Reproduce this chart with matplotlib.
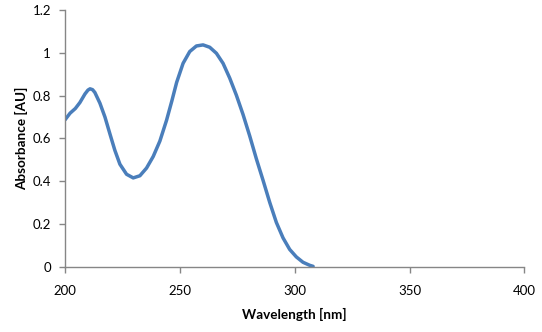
import matplotlib
matplotlib.use("Agg")
import matplotlib.pyplot as plt

# Absorbance spectrum
wavelength_nm = [200, 202.2, 204.5, 206.5, 208.7, 210.0, 210.9, 212.0, 213.0, 215.2,
                 217.4, 219.6, 221.7, 223.9, 226.8, 229.7, 232.6, 235.5, 238.4, 241.3,
                 244.2, 246.5, 248.6, 251.4, 254.3, 257.2, 260.1, 263.0, 265.9, 268.8,
                 271.7, 274.6, 277.5, 280.4, 283.3, 286.2, 289.1, 292.0, 294.9, 297.8,
                 300.7, 303.6, 306.5, 308.0]
absorbance_au = [0.687, 0.718, 0.740, 0.768, 0.808, 0.826, 0.832, 0.828, 0.815, 0.765,
                 0.700, 0.620, 0.545, 0.480, 0.433, 0.416, 0.426, 0.462, 0.516, 0.588,
                 0.685, 0.775, 0.862, 0.951, 1.006, 1.032, 1.037, 1.026, 0.998, 0.951,
                 0.882, 0.802, 0.712, 0.612, 0.505, 0.405, 0.302, 0.208, 0.136, 0.082,
                 0.047, 0.022, 0.008, 0.003]

x_ticks = [200, 250, 300, 350, 400]
y_ticks = [0, 0.2, 0.4, 0.6, 0.8, 1.0, 1.2]
y_tick_labels = ["0", "0.2", "0.4", "0.6", "0.8", "1", "1.2"]

plt.rcParams["font.family"] = ["Lato", "DejaVu Sans"]

fig = plt.figure(figsize=(5.42, 3.32), dpi=100)
ax = fig.add_axes([0.1199, 0.1958, 0.8478, 0.7741])

ax.plot(wavelength_nm, absorbance_au, color="#4A7EBB", linewidth=2.5,
        solid_capstyle="round", solid_joinstyle="round")

ax.set_xlim(200, 400)
ax.set_ylim(0, 1.2)
ax.set_xticks(x_ticks)
ax.set_xticklabels([str(t) for t in x_ticks])
ax.set_yticks(y_ticks)
ax.set_yticklabels(y_tick_labels)

for side in ("top", "right"):
    ax.spines[side].set_visible(False)
for side in ("left", "bottom"):
    ax.spines[side].set_color("#868686")
    ax.spines[side].set_linewidth(1.0)

ax.tick_params(axis="both", direction="out", length=4, width=1.0,
               color="#868686", labelsize=9.5, labelcolor="black")
ax.tick_params(axis="x", pad=9)
ax.tick_params(axis="y", pad=6)

ax.set_xlabel("Wavelength [nm]", fontsize=9.75, fontweight="bold", labelpad=8)
ax.set_ylabel("Absorbance [AU]", fontsize=9.75, fontweight="bold", labelpad=3)

fig.savefig("out.png", dpi=100)
